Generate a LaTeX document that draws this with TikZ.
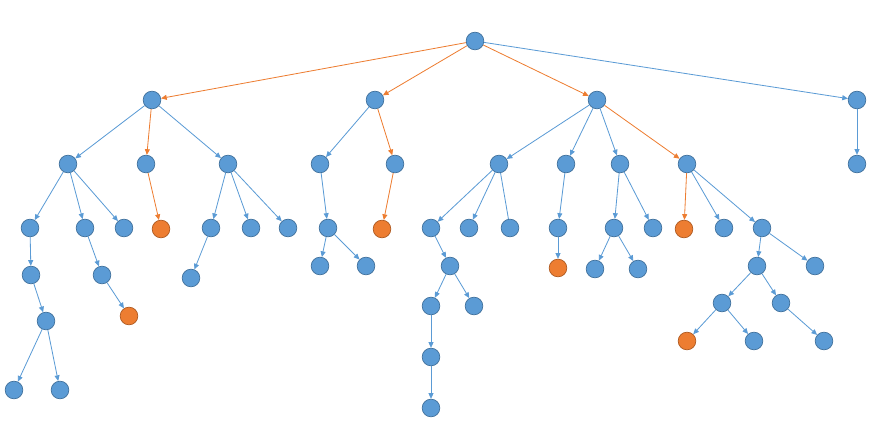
\documentclass[tikz,border=0pt]{standalone}
\usepackage{tikz}
\usetikzlibrary{arrows.meta}
\usepackage{xcolor}
\definecolor{nodefill}{HTML}{5B9BD5}
\definecolor{nodestr}{HTML}{41719C}
\definecolor{hotfill}{HTML}{ED7D31}
\definecolor{hotstr}{HTML}{AE5A21}
\tikzset{
  vtx/.style    ={circle, draw=nodestr, fill=nodefill, line width=0.6pt,
                  minimum size=0.53cm, inner sep=0pt},
  hotvtx/.style ={vtx, draw=hotstr, fill=hotfill},
  flow/.style   ={-{Triangle[length=1.7mm, width=1.5mm]}, draw=nodefill, line width=0.7pt},
  hot/.style    ={flow, draw=hotfill},
  bare/.style   ={draw=nodefill, line width=0.7pt},
}

\begin{document}
\begin{tikzpicture}[x=0.03cm, y=-0.03cm]
    \useasboundingbox (0,0) rectangle (888,428);
    % level 0 and 1
    \node[vtx] (root) at (475,41) {};
    \node[vtx] (a) at (152,100) {};
    \node[vtx] (b) at (375,100) {};
    \node[vtx] (c) at (597,100) {};
    \node[vtx] (d) at (857,100) {};
    % left branch
    \node[vtx] (a1) at (68,164) {};
    \node[vtx] (a2) at (146,164) {};
    \node[vtx] (a3) at (228,164) {};
    \node[vtx] (a11) at (30,228) {};
    \node[vtx] (a12) at (85,228) {};
    \node[vtx] (a13) at (124,228) {};
    \node[vtx] (a111) at (31,275) {};
    \node[vtx] (a1111) at (46,321) {};
    \node[vtx] (a11111) at (14,390) {};
    \node[vtx] (a11112) at (60,390) {};
    \node[vtx] (a121) at (102,275) {};
    \node[hotvtx] (a1211) at (129,316) {};
    \node[hotvtx] (a21) at (161,229) {};
    \node[vtx] (a31) at (211,228) {};
    \node[vtx] (a32) at (251,228) {};
    \node[vtx] (a33) at (288,228) {};
    \node[vtx] (a311) at (191,278) {};
    % middle branch
    \node[vtx] (b1) at (320,164) {};
    \node[vtx] (b2) at (395,164) {};
    \node[vtx] (b11) at (328,228) {};
    \node[vtx] (b111) at (320,266) {};
    \node[vtx] (b112) at (366,266) {};
    \node[hotvtx] (b21) at (382,229) {};
    % right branch
    \node[vtx] (c1) at (499,164) {};
    \node[vtx] (c2) at (566,164) {};
    \node[vtx] (c3) at (620,164) {};
    \node[vtx] (c4) at (687,164) {};
    \node[vtx] (c11) at (431,228) {};
    \node[vtx] (c12) at (469,228) {};
    \node[vtx] (c13) at (510,228) {};
    \node[vtx] (c111) at (450,266) {};
    \node[vtx] (c1111) at (431,306) {};
    \node[vtx] (c1112) at (474,306) {};
    \node[vtx] (c11111) at (431,357) {};
    \node[vtx] (c111111) at (431,408) {};
    \node[vtx] (c21) at (558,228) {};
    \node[hotvtx] (c211) at (558,268) {};
    \node[vtx] (c31) at (614,228) {};
    \node[vtx] (c32) at (653,228) {};
    \node[vtx] (c311) at (595,269) {};
    \node[vtx] (c312) at (638,269) {};
    \node[hotvtx] (c41) at (684,229) {};
    \node[vtx] (c42) at (724,228) {};
    \node[vtx] (c43) at (762,228) {};
    \node[vtx] (c431) at (757,266) {};
    \node[vtx] (c432) at (815,266) {};
    \node[vtx] (c4311) at (722,303) {};
    \node[vtx] (c4312) at (781,303) {};
    \node[hotvtx] (c43111) at (687,341) {};
    \node[vtx] (c43112) at (754,341) {};
    \node[vtx] (c43121) at (824,341) {};
    \node[vtx] (d1) at (857,164) {};

    \draw[hot] (root) -- (a);
    \draw[hot] (root) -- (b);
    \draw[hot] (root) -- (c);
    \draw[flow] (root) -- (d);
    \draw[flow] (a) -- (a1);
    \draw[hot] (a) -- (a2);
    \draw[flow] (a) -- (a3);
    \draw[flow] (a1) -- (a11);
    \draw[flow] (a1) -- (a12);
    \draw[flow] (a1) -- (a13);
    \draw[flow] (a11) -- (a111);
    \draw[flow] (a111) -- (a1111);
    \draw[flow] (a1111) -- (a11111);
    \draw[flow] (a1111) -- (a11112);
    \draw[flow] (a12) -- (a121);
    \draw[flow] (a121) -- (a1211);
    \draw[hot] (a2) -- (a21);
    \draw[flow] (a3) -- (a31);
    \draw[flow] (a3) -- (a32);
    \draw[flow] (a3) -- (a33);
    \draw[flow] (a31) -- (a311);
    \draw[flow] (b) -- (b1);
    \draw[hot] (b) -- (b2);
    \draw[flow] (b1) -- (b11);
    \draw[flow] (b11) -- (b111);
    \draw[flow] (b11) -- (b112);
    \draw[hot] (b2) -- (b21);
    \draw[flow] (c) -- (c1);
    \draw[flow] (c) -- (c2);
    \draw[flow] (c) -- (c3);
    \draw[hot] (c) -- (c4);
    \draw[flow] (c1) -- (c11);
    \draw[flow] (c1) -- (c12);
    \draw[bare] (c1) -- (c13);
    \draw[flow] (c11) -- (c111);
    \draw[flow] (c111) -- (c1111);
    \draw[flow] (c111) -- (c1112);
    \draw[flow] (c1111) -- (c11111);
    \draw[flow] (c11111) -- (c111111);
    \draw[flow] (c2) -- (c21);
    \draw[flow] (c21) -- (c211);
    \draw[flow] (c3) -- (c31);
    \draw[flow] (c3) -- (c32);
    \draw[flow] (c31) -- (c311);
    \draw[flow] (c31) -- (c312);
    \draw[hot] (c4) -- (c41);
    \draw[flow] (c4) -- (c42);
    \draw[flow] (c4) -- (c43);
    \draw[flow] (c43) -- (c431);
    \draw[flow] (c43) -- (c432);
    \draw[flow] (c431) -- (c4311);
    \draw[flow] (c431) -- (c4312);
    \draw[flow] (c4311) -- (c43111);
    \draw[flow] (c4311) -- (c43112);
    \draw[flow] (c4312) -- (c43121);
    \draw[flow] (d) -- (d1);
  \end{tikzpicture}
\end{document}
